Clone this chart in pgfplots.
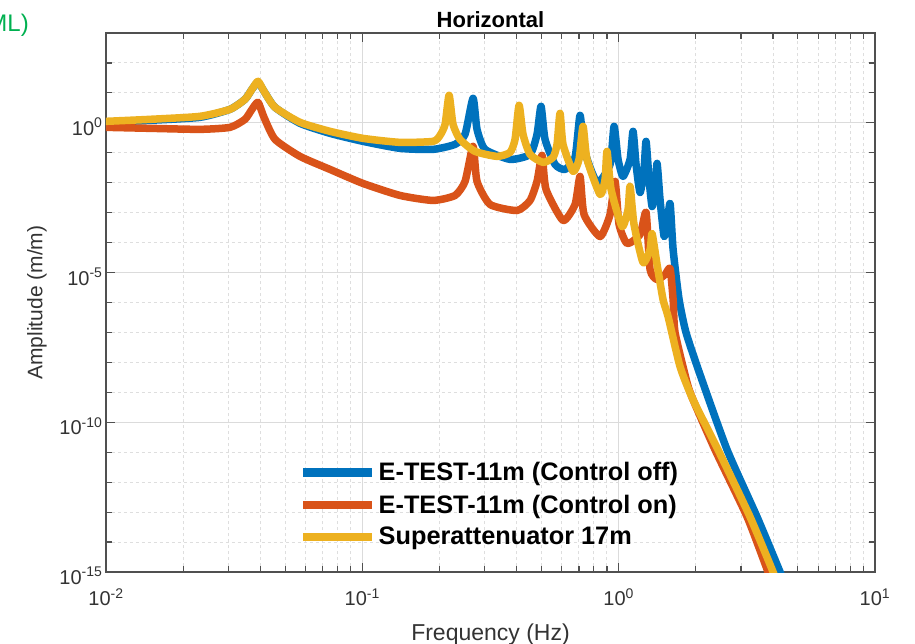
\documentclass[border=0pt]{standalone}
\usepackage{fontspec}
\setmainfont{Liberation Sans}
\usepackage{pgfplots}
\pgfplotsset{compat=1.18}
\definecolor{mblue}{rgb}{0,0.447,0.741}
\definecolor{mred}{rgb}{0.850,0.325,0.098}
\definecolor{myellow}{rgb}{0.929,0.694,0.125}
\definecolor{mgreen}{RGB}{0,176,80}
\definecolor{axgray}{RGB}{80,80,80}

\begin{document}
\begin{tikzpicture}
\useasboundingbox (0pt,0pt) rectangle (915pt,643pt);
\node[anchor=base east, text=mgreen, font=\fontsize{24}{28}\selectfont, inner sep=0pt] at (29pt,611pt) {ML)};
\begin{axis}[
  at={(106pt,71pt)}, anchor=south west, scale only axis,
  width=769pt, height=539pt,
  xmode=log, ymode=log,
  xmin=0.01, xmax=10, ymin=1e-15, ymax=1e3,
  xtick={0.01,0.1,1,10},
  xticklabels={10\textsuperscript{-2},10\textsuperscript{-1},10\textsuperscript{0},10\textsuperscript{1}},
  minor xtick={0.02,0.03,0.04,0.05,0.06,0.07,0.08,0.09,0.2,0.3,0.4,0.5,0.6,0.7,0.8,0.9,2,3,4,5,6,7,8,9},
  ytick={1e-15,1e-10,1e-5,1},
  yticklabels={10\textsuperscript{-15},10\textsuperscript{-10},10\textsuperscript{-5},10\textsuperscript{0}},
  minor ytick={1e-14,1e-13,1e-12,1e-11,1e-9,1e-8,1e-7,1e-6,1e-4,1e-3,1e-2,1e-1,1e1,1e2},
  grid=both,
  major grid style={black!14, line width=1pt},
  minor grid style={black!13, line width=0.9pt, dash pattern=on 3pt off 3pt},
  axis line style={axgray, line width=1.2pt},
  tick style={axgray, line width=1.2pt},
  major tick length=9pt, minor tick length=6pt,
  tick label style={font=\fontsize{20}{24}\selectfont, text=black!80},
  xticklabel style={yshift=-13pt},
  yticklabel style={yshift=-4pt},
  title={Horizontal},
  title style={font=\bfseries\fontsize{22}{26}\selectfont, yshift=-4pt},
  xlabel={Frequency (Hz)},
  xlabel style={font=\fontsize{23}{27}\selectfont, text=black!80, yshift=-11pt},
  ylabel={Amplitude (m/m)},
  ylabel style={font=\fontsize{21}{25}\selectfont, text=black!80, yshift=6pt},
  legend image code/.code={\draw[#1, line width=8.5pt, line cap=butt] (0pt,0pt) -- (69pt,0pt);},
  legend style={font=\bfseries\fontsize{25.3}{29}\selectfont, draw=none, fill=none,
    at={(0.251,0.207)}, anchor=north west, inner sep=0pt, row sep=8.5pt,
    /tikz/every odd column/.append style={column sep=0pt}},
  legend cell align=left,
  every axis plot/.append style={line width=7.5pt, line join=round, line cap=round, smooth, tension=0.35},
]
\addplot[mblue] coordinates {
(0.0100,1.039) (0.01485,1.212) (0.02327,1.527) (0.03047,2.828) (0.03486,6.109)
(0.03711,13.19) (0.03918,22.62) (0.04135,11.31) (0.04564,3.299) (0.05713,0.962)
(0.07482,0.446) (0.1006,0.2406) (0.1403,0.1403) (0.1888,0.1299) (0.2300,0.1910)
(0.2516,0.413) (0.2703,6.598) (0.2802,0.606) (0.3011,0.1299) (0.3770,0.0602)
(0.4511,0.0884) (0.4803,0.413) (0.4979,3.563) (0.5162,0.281) (0.5647,0.0409)
(0.6177,0.0278) (0.6759,0.0702) (0.7069,1.781) (0.7328,0.1299) (0.8237,0.01023)
(0.9258,0.0409) (0.9596,0.764) (0.9947,0.0602) (1.040,0.01624) (1.108,0.0602)
(1.138,0.520) (1.169,0.0409) (1.212,0.00474) (1.256,0.0278) (1.279,0.2406)
(1.314,0.01289) (1.350,0.00161) (1.387,0.00597) (1.412,0.0442) (1.450,0.00276)
(1.504,0.000160) (1.545,0.000403) (1.587,0.00203) (1.631,5.88e-5) (1.721,1.25e-6)
(1.832,9.85e-8) (2.078,3.88e-9) (2.649,1.20e-11) (3.467,6.92e-14) (4.263,1e-15)
(4.500,2.92e-16)};
\addlegendentry{E-TEST-11m (Control off)}
\addplot[mred] coordinates {
(0.0100,0.707) (0.01485,0.655) (0.02327,0.606) (0.03047,0.707) (0.03486,1.309)
(0.03711,2.828) (0.03918,4.850) (0.04135,1.527) (0.04564,0.281) (0.05713,0.0758)
(0.07482,0.0278) (0.1006,0.00947) (0.1403,0.00376) (0.1888,0.00256) (0.2300,0.00376)
(0.2516,0.01105) (0.2703,0.1637) (0.2802,0.01105) (0.3150,0.00188) (0.4015,0.00118)
(0.4511,0.00256) (0.4803,0.01105) (0.5024,0.0818) (0.5208,0.00597) (0.6067,0.000548)
(0.6759,0.00188) (0.7069,0.01624) (0.7328,0.000871) (0.8461,0.000160) (0.9258,0.000871)
(0.9683,0.01105) (1.0037,0.000403) (1.079,9.33e-5) (1.212,0.000187) (1.279,0.00102)
(1.326,1.26e-5) (1.412,5.83e-6) (1.517,8.57e-6) (1.587,1.36e-5) (1.631,1.25e-6)
(1.660,9.85e-8) (1.849,2.09e-9) (1.951,5.65e-10) (2.377,1.20e-11) (3.170,6.92e-14)
(3.827,1e-15) (4.004,3.67e-16)};
\addlegendentry{E-TEST-11m (Control on)}
\addplot[myellow] coordinates {
(0.0100,1.122) (0.01485,1.309) (0.02327,1.650) (0.03047,2.828) (0.03486,6.109)
(0.03711,13.19) (0.03918,24.43) (0.04135,11.31) (0.04564,3.299) (0.05713,1.039)
(0.07482,0.520) (0.1006,0.303) (0.1403,0.2228) (0.1888,0.2406) (0.2010,0.382)
(0.2103,0.891) (0.2180,8.311) (0.2259,0.891) (0.2405,0.281) (0.2752,0.1114)
(0.3354,0.0758) (0.3770,0.1031) (0.3943,0.281) (0.4088,3.848) (0.4236,0.413)
(0.4511,0.0884) (0.5070,0.0477) (0.5546,0.0702) (0.5749,0.1910) (0.5906,2.078)
(0.6067,0.1910) (0.6638,0.0239) (0.7006,0.0602) (0.7262,0.764) (0.7527,0.0602)
(0.8461,0.00406) (0.8849,0.01289) (0.9009,0.1114) (0.9341,0.00597) (1.031,0.000345)
(1.088,0.00128) (1.108,0.00752) (1.148,0.000403) (1.245,2.16e-5) (1.326,5.88e-5)
(1.350,0.000201) (1.412,1.85e-5) (1.490,1.25e-6) (1.559,3.38e-7) (1.736,7.18e-9)
(1.951,5.65e-10) (2.442,1.20e-11) (3.256,6.92e-14) (4.004,1e-15) (4.187,3.67e-16)};
\addlegendentry{Superattenuator 17m}
\end{axis}
\end{tikzpicture}
\end{document}
